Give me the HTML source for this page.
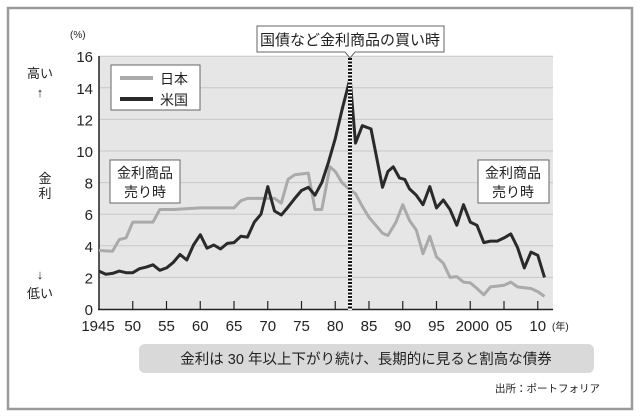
<!DOCTYPE html>
<html><head><meta charset="utf-8">
<style>
body{margin:0;background:#fff;}
svg{display:block;font-family:"Liberation Sans","Noto Sans CJK JP",sans-serif;}
</style></head>
<body>
<svg id="s" width="640" height="419" viewBox="0 0 640 419" xmlns="http://www.w3.org/2000/svg">
<rect x="8" y="8" width="624" height="401" fill="#fff" stroke="#9a9a9a" stroke-width="2.5"/>
<rect x="99" y="56" width="454" height="253" fill="#e6e6e6"/>
<g id="grid" stroke="#c8c8c8" stroke-width="1"></g>
<g id="ticks" stroke="#222" stroke-width="1.2"></g>
<line x1="99" y1="56" x2="99" y2="310" stroke="#222" stroke-width="1.5"/>
<line x1="98" y1="309.5" x2="553" y2="309.5" stroke="#222" stroke-width="1.5"/>
<g id="ylab" font-size="15" fill="#222" text-anchor="end"></g>
<g id="xlab" font-size="15" fill="#222" text-anchor="middle"></g>
<text x="552" y="330" font-size="10" fill="#222">(年)</text>
<text x="70" y="38" font-size="10" fill="#222">(%)</text>
<polyline id="jp" fill="none" stroke="#aaaaaa" stroke-width="3" stroke-linejoin="round"/>
<polyline id="us" fill="none" stroke="#2a2a2a" stroke-width="3" stroke-linejoin="round"/>
<line x1="350" y1="58" x2="350" y2="310" stroke="#fff" stroke-width="4"/>
<line x1="350" y1="58" x2="350" y2="310" stroke="#111" stroke-width="4" stroke-dasharray="2,1.5"/>
<!-- callout -->
<path d="M257 26 H444 V52 H355 L350 58 L345 52 H257 Z" fill="#fff" stroke="#666" stroke-width="1"/>
<text x="350" y="45" font-size="15" fill="#222" text-anchor="middle">国債など金利商品の買い時</text>
<!-- legend -->
<rect x="111" y="65" width="89" height="45" fill="#fff" stroke="#666"/>
<line x1="120" y1="78" x2="153" y2="78" stroke="#aaa" stroke-width="4"/>
<line x1="120" y1="99" x2="153" y2="99" stroke="#2a2a2a" stroke-width="4"/>
<text x="160" y="84" font-size="14" fill="#222">日本</text>
<text x="160" y="105" font-size="14" fill="#222">米国</text>
<rect x="110" y="160" width="70" height="43" fill="#fff" stroke="#666"/>
<text x="145" y="178" font-size="14" fill="#222" text-anchor="middle">金利商品</text>
<text x="145" y="197" font-size="14" fill="#222" text-anchor="middle">売り時</text>
<rect x="478" y="160" width="71" height="43" fill="#fff" stroke="#666"/>
<text x="513" y="178" font-size="14" fill="#222" text-anchor="middle">金利商品</text>
<text x="513" y="197" font-size="14" fill="#222" text-anchor="middle">売り時</text>
<!-- left labels -->
<g font-size="13" fill="#222" text-anchor="middle">
<text x="40" y="78">高い</text>
<text x="40" y="97">↑</text>
<text x="45" y="183">金</text>
<text x="45" y="198">利</text>
<text x="40" y="279">↓</text>
<text x="40" y="298">低い</text>
</g>
<rect x="139" y="344" width="455" height="29" rx="6" fill="#d9d9d9"/>
<text x="366" y="364" font-size="14.5" fill="#222" text-anchor="middle">金利は 30 年以上下がり続け、長期的に見ると割高な債券</text>
<text x="600" y="392" font-size="10.5" fill="#222" text-anchor="end">出所：ポートフォリア</text>
</svg>
<script>
var NS="http://www.w3.org/2000/svg";
function X(y){return 99+(y-1945)*6.75;}
function Y(v){return 309-v*15.8;}
function el(p,t,a,txt){var e=document.createElementNS(NS,t);for(var k in a)e.setAttribute(k,a[k]);if(txt!=null)e.textContent=txt;document.getElementById(p).appendChild(e);}
for(var v=2;v<=16;v+=2){el("grid","line",{x1:99,x2:553,y1:Y(v),y2:Y(v)});}
for(var v=0;v<=16;v+=2){el("ylab","text",{x:93,y:Y(v)+6},String(v));}
var xl=["1945","50","55","60","65","70","75","80","85","90","95","2000","05","10"];
for(var i=0;i<14;i++){var yr=1945+5*i;var x=X(yr);if(i>0)el("ticks","line",{x1:x,x2:x,y1:301,y2:309});
 var tx=x; if(i==0)tx=x-1; if(i==11)tx=x+2;
 el("xlab","text",{x:tx,y:331},xl[i]);}
var us=[[1945,2.4],[1946,2.2],[1947,2.25],[1948,2.4],[1949,2.3],[1950,2.3],[1951,2.55],[1952,2.65],[1953,2.8],[1954,2.45],[1955,2.6],[1956,2.95],[1957,3.45],[1958,3.1],[1959,4.05],[1960,4.7],[1961,3.85],[1962,4.05],[1963,3.8],[1964,4.15],[1965,4.2],[1966,4.6],[1967,4.55],[1968,5.5],[1969,6.0],[1970,7.75],[1971,6.2],[1972,5.95],[1973,6.45],[1974,7.0],[1975,7.5],[1976,7.7],[1977,7.2],[1978,8.0],[1979,9.3],[1980,10.8],[1981,12.6],[1982.2,14.6],[1983,10.5],[1984,11.6],[1985.3,11.4],[1987,7.7],[1987.8,8.7],[1988.6,9.0],[1989.5,8.3],[1990.3,8.2],[1991,7.6],[1992,7.2],[1993,6.6],[1994,7.75],[1995,6.4],[1996,6.9],[1997,6.3],[1998,5.3],[1999,6.6],[2000,5.5],[2001,5.3],[2002,4.2],[2003,4.3],[2004,4.3],[2005,4.5],[2006,4.75],[2007,3.9],[2008,2.6],[2009,3.6],[2010,3.4],[2011,2.0]];
var jp=[[1945,3.7],[1947,3.65],[1948,4.4],[1949,4.5],[1950,5.5],[1953,5.5],[1954,6.3],[1956,6.3],[1960,6.4],[1965,6.4],[1966,6.85],[1967,7.0],[1971,7.0],[1972,6.7],[1973,8.2],[1974,8.5],[1976,8.6],[1977,6.3],[1978,6.3],[1979.2,9.0],[1980,8.7],[1981,8.0],[1982,7.6],[1983,7.3],[1984,6.5],[1985,5.8],[1986,5.3],[1987,4.8],[1987.8,4.65],[1989,5.5],[1990,6.6],[1991,5.6],[1992,5.0],[1993,3.5],[1994,4.6],[1995,3.3],[1996,2.9],[1997,2.0],[1998,2.05],[1999,1.7],[2000,1.65],[2001,1.3],[2002,0.9],[2003,1.4],[2004,1.45],[2005,1.5],[2006,1.7],[2007,1.4],[2008,1.35],[2009,1.3],[2010,1.1],[2011,0.8]];
function pts(a){return a.map(function(p){return X(p[0]).toFixed(1)+","+Y(p[1]).toFixed(1);}).join(" ");}
document.getElementById("us").setAttribute("points",pts(us));
document.getElementById("jp").setAttribute("points",pts(jp));
</script>
</body></html>
